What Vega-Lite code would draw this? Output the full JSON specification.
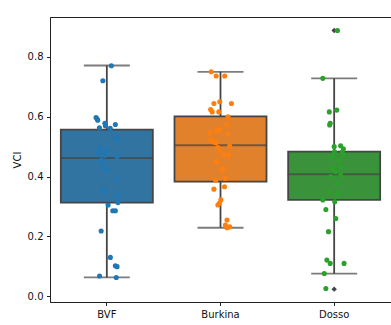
{
  "$schema": "https://vega.github.io/schema/vega-lite/v6.json",
  "autosize": {"type": "none"},
  "padding": {"left": 50, "top": 17, "right": 0, "bottom": 23},
  "width": 341,
  "height": 285,
  "background": "white",
  "config": {
    "view": {"stroke": "#222", "strokeWidth": 1},
    "font": "DejaVu Sans",
    "axis": {
      "labelFont": "DejaVu Sans", "labelFontSize": 10, "labelColor": "#111",
      "titleFont": "DejaVu Sans", "titleFontSize": 10, "titleFontWeight": "normal", "titleColor": "#111",
      "domainColor": "#222", "tickColor": "#222", "tickSize": 3.5, "labelPadding": 3.5, "grid": false
    }
  },
  "datasets": {
    "summary": [
      {"region": "BVF", "lo": 0.063, "q1": 0.313, "med": 0.462, "q3": 0.557, "hi": 0.771},
      {"region": "Burkina", "lo": 0.229, "q1": 0.383, "med": 0.505, "q3": 0.601, "hi": 0.750},
      {"region": "Dosso", "lo": 0.076, "q1": 0.322, "med": 0.408, "q3": 0.483, "hi": 0.728}
    ],
    "fliers": [
      {"region": "Dosso", "VCI": 0.888},
      {"region": "Dosso", "VCI": 0.024}
    ],
    "points": [
      {"region": "BVF", "VCI": 0.770, "jitter": 0.04},
      {"region": "BVF", "VCI": 0.720, "jitter": -0.035},
      {"region": "BVF", "VCI": 0.597, "jitter": -0.095},
      {"region": "BVF", "VCI": 0.592, "jitter": -0.085},
      {"region": "BVF", "VCI": 0.588, "jitter": -0.08},
      {"region": "BVF", "VCI": 0.563, "jitter": -0.065},
      {"region": "BVF", "VCI": 0.578, "jitter": -0.017},
      {"region": "BVF", "VCI": 0.570, "jitter": -0.013},
      {"region": "BVF", "VCI": 0.574, "jitter": 0.075},
      {"region": "BVF", "VCI": 0.561, "jitter": 0.03},
      {"region": "BVF", "VCI": 0.533, "jitter": 0.075},
      {"region": "BVF", "VCI": 0.522, "jitter": 0.098},
      {"region": "BVF", "VCI": 0.496, "jitter": -0.058},
      {"region": "BVF", "VCI": 0.483, "jitter": -0.065},
      {"region": "BVF", "VCI": 0.478, "jitter": -0.07},
      {"region": "BVF", "VCI": 0.488, "jitter": 0.003},
      {"region": "BVF", "VCI": 0.470, "jitter": -0.02},
      {"region": "BVF", "VCI": 0.466, "jitter": 0.09},
      {"region": "BVF", "VCI": 0.455, "jitter": -0.05},
      {"region": "BVF", "VCI": 0.449, "jitter": -0.04},
      {"region": "BVF", "VCI": 0.427, "jitter": -0.026},
      {"region": "BVF", "VCI": 0.422, "jitter": 0.0},
      {"region": "BVF", "VCI": 0.391, "jitter": 0.09},
      {"region": "BVF", "VCI": 0.357, "jitter": -0.023},
      {"region": "BVF", "VCI": 0.349, "jitter": -0.032},
      {"region": "BVF", "VCI": 0.338, "jitter": 0.09},
      {"region": "BVF", "VCI": 0.313, "jitter": 0.098},
      {"region": "BVF", "VCI": 0.305, "jitter": 0.011},
      {"region": "BVF", "VCI": 0.286, "jitter": 0.052},
      {"region": "BVF", "VCI": 0.286, "jitter": 0.075},
      {"region": "BVF", "VCI": 0.218, "jitter": -0.05},
      {"region": "BVF", "VCI": 0.130, "jitter": 0.031},
      {"region": "BVF", "VCI": 0.102, "jitter": 0.075},
      {"region": "BVF", "VCI": 0.099, "jitter": 0.09},
      {"region": "BVF", "VCI": 0.068, "jitter": -0.064},
      {"region": "BVF", "VCI": 0.063, "jitter": 0.083},
      {"region": "Burkina", "VCI": 0.750, "jitter": -0.082},
      {"region": "Burkina", "VCI": 0.736, "jitter": -0.038},
      {"region": "Burkina", "VCI": 0.736, "jitter": 0.037},
      {"region": "Burkina", "VCI": 0.650, "jitter": -0.006},
      {"region": "Burkina", "VCI": 0.644, "jitter": -0.058},
      {"region": "Burkina", "VCI": 0.644, "jitter": 0.096},
      {"region": "Burkina", "VCI": 0.624, "jitter": -0.087},
      {"region": "Burkina", "VCI": 0.616, "jitter": -0.073},
      {"region": "Burkina", "VCI": 0.616, "jitter": -0.015},
      {"region": "Burkina", "VCI": 0.600, "jitter": 0.066},
      {"region": "Burkina", "VCI": 0.572, "jitter": 0.057},
      {"region": "Burkina", "VCI": 0.552, "jitter": -0.035},
      {"region": "Burkina", "VCI": 0.558, "jitter": -0.006},
      {"region": "Burkina", "VCI": 0.542, "jitter": 0.063},
      {"region": "Burkina", "VCI": 0.546, "jitter": -0.093},
      {"region": "Burkina", "VCI": 0.522, "jitter": -0.087},
      {"region": "Burkina", "VCI": 0.516, "jitter": -0.064},
      {"region": "Burkina", "VCI": 0.513, "jitter": -0.041},
      {"region": "Burkina", "VCI": 0.497, "jitter": -0.023},
      {"region": "Burkina", "VCI": 0.486, "jitter": -0.01},
      {"region": "Burkina", "VCI": 0.502, "jitter": 0.081},
      {"region": "Burkina", "VCI": 0.472, "jitter": 0.029},
      {"region": "Burkina", "VCI": 0.472, "jitter": 0.072},
      {"region": "Burkina", "VCI": 0.449, "jitter": -0.035},
      {"region": "Burkina", "VCI": 0.427, "jitter": 0.023},
      {"region": "Burkina", "VCI": 0.422, "jitter": 0.014},
      {"region": "Burkina", "VCI": 0.388, "jitter": -0.043},
      {"region": "Burkina", "VCI": 0.394, "jitter": 0.043},
      {"region": "Burkina", "VCI": 0.358, "jitter": -0.058},
      {"region": "Burkina", "VCI": 0.366, "jitter": 0.035},
      {"region": "Burkina", "VCI": 0.322, "jitter": 0.003},
      {"region": "Burkina", "VCI": 0.311, "jitter": -0.01},
      {"region": "Burkina", "VCI": 0.305, "jitter": -0.023},
      {"region": "Burkina", "VCI": 0.255, "jitter": 0.057},
      {"region": "Burkina", "VCI": 0.238, "jitter": 0.043},
      {"region": "Burkina", "VCI": 0.232, "jitter": 0.081},
      {"region": "Burkina", "VCI": 0.229, "jitter": 0.057},
      {"region": "Dosso", "VCI": 0.888, "jitter": 0.029},
      {"region": "Dosso", "VCI": 0.728, "jitter": -0.10},
      {"region": "Dosso", "VCI": 0.616, "jitter": -0.043},
      {"region": "Dosso", "VCI": 0.622, "jitter": 0.023},
      {"region": "Dosso", "VCI": 0.578, "jitter": -0.035},
      {"region": "Dosso", "VCI": 0.572, "jitter": -0.04},
      {"region": "Dosso", "VCI": 0.500, "jitter": 0.0},
      {"region": "Dosso", "VCI": 0.503, "jitter": 0.057},
      {"region": "Dosso", "VCI": 0.493, "jitter": 0.081},
      {"region": "Dosso", "VCI": 0.483, "jitter": 0.003},
      {"region": "Dosso", "VCI": 0.483, "jitter": 0.072},
      {"region": "Dosso", "VCI": 0.472, "jitter": 0.081},
      {"region": "Dosso", "VCI": 0.466, "jitter": -0.015},
      {"region": "Dosso", "VCI": 0.455, "jitter": 0.043},
      {"region": "Dosso", "VCI": 0.433, "jitter": 0.055},
      {"region": "Dosso", "VCI": 0.427, "jitter": -0.015},
      {"region": "Dosso", "VCI": 0.416, "jitter": 0.011},
      {"region": "Dosso", "VCI": 0.405, "jitter": 0.057},
      {"region": "Dosso", "VCI": 0.400, "jitter": -0.03},
      {"region": "Dosso", "VCI": 0.377, "jitter": 0.029},
      {"region": "Dosso", "VCI": 0.349, "jitter": -0.043},
      {"region": "Dosso", "VCI": 0.344, "jitter": 0.029},
      {"region": "Dosso", "VCI": 0.322, "jitter": -0.10},
      {"region": "Dosso", "VCI": 0.316, "jitter": 0.005},
      {"region": "Dosso", "VCI": 0.290, "jitter": -0.073},
      {"region": "Dosso", "VCI": 0.260, "jitter": 0.014},
      {"region": "Dosso", "VCI": 0.216, "jitter": -0.05},
      {"region": "Dosso", "VCI": 0.121, "jitter": -0.064},
      {"region": "Dosso", "VCI": 0.110, "jitter": -0.035},
      {"region": "Dosso", "VCI": 0.110, "jitter": 0.087},
      {"region": "Dosso", "VCI": 0.076, "jitter": -0.087},
      {"region": "Dosso", "VCI": 0.026, "jitter": -0.073}
    ]
  },
  "resolve": {"scale": {"x": "independent"}},
  "layer": [
    {
      "encoding": {
        "x": {
          "field": "region", "type": "nominal",
          "scale": {"domain": ["BVF", "Burkina", "Dosso"], "paddingInner": 0, "paddingOuter": 0},
          "axis": {"title": null, "labelAngle": 0}
        }
      },
      "layer": [
        {
          "data": {"name": "summary"},
          "mark": {"type": "rule", "color": "#454545", "strokeWidth": 1.8},
          "encoding": {
            "y": {"field": "lo", "type": "quantitative",
              "scale": {"domain": [-0.019, 0.933], "nice": false, "zero": false},
              "axis": {"title": "VCI", "values": [0, 0.2, 0.4, 0.6, 0.8], "format": ".1f", "titlePadding": 5}},
            "y2": {"field": "hi"}
          }
        },
        {
          "data": {"name": "summary"},
          "mark": {"type": "tick", "color": "#454545", "thickness": 1.8, "size": 46},
          "encoding": {"y": {"field": "lo", "type": "quantitative"}}
        },
        {
          "data": {"name": "summary"},
          "mark": {"type": "tick", "color": "#454545", "thickness": 1.8, "size": 46},
          "encoding": {"y": {"field": "hi", "type": "quantitative"}}
        },
        {
          "data": {"name": "summary"},
          "mark": {"type": "bar", "width": 92, "stroke": "#454545", "strokeWidth": 1.8},
          "encoding": {
            "y": {"field": "q1", "type": "quantitative"},
            "y2": {"field": "q3"},
            "fill": {"field": "region", "type": "nominal",
              "scale": {"domain": ["BVF", "Burkina", "Dosso"], "range": ["#3274a1", "#e1812c", "#3a923a"]}, "legend": null}
          }
        },
        {
          "data": {"name": "summary"},
          "mark": {"type": "tick", "color": "#454545", "thickness": 2, "size": 93},
          "encoding": {"y": {"field": "med", "type": "quantitative"}}
        },
        {
          "data": {"name": "fliers"},
          "mark": {"type": "point", "shape": "diamond", "filled": true, "color": "#454545", "size": 30, "opacity": 1},
          "encoding": {"y": {"field": "VCI", "type": "quantitative"}}
        }
      ]
    },
    {
      "data": {"name": "points"},
      "mark": {"type": "circle", "size": 26, "opacity": 1},
      "encoding": {
        "x": {
          "field": "region", "type": "nominal",
          "scale": {"domain": ["BVF", "Burkina", "Dosso"], "paddingInner": 0, "paddingOuter": 0},
          "axis": null
        },
        "xOffset": {"field": "jitter", "type": "quantitative", "scale": {"domain": [-0.5, 0.5], "range": [0, 113.67]}},
        "y": {"field": "VCI", "type": "quantitative"},
        "color": {"field": "region", "type": "nominal",
          "scale": {"domain": ["BVF", "Burkina", "Dosso"], "range": ["#1f77b4", "#ff7f0e", "#2ca02c"]}, "legend": null}
      }
    }
  ]
}
